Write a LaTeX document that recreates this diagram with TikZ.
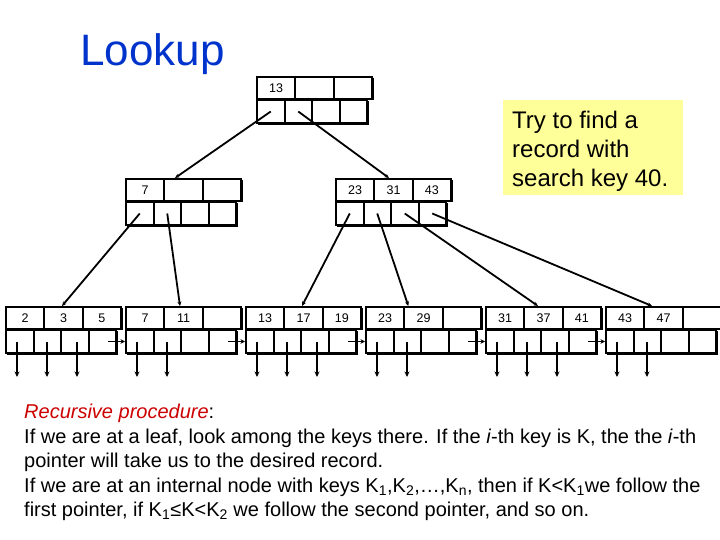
\documentclass[tikz,border=0pt]{standalone}
\usepackage{fontspec}
\setmainfont{Liberation Sans}
\usetikzlibrary{arrows.meta}
\definecolor{titleblue}{RGB}{0,51,204}
\definecolor{procred}{RGB}{204,0,0}
\definecolor{noteyellow}{RGB}{255,255,153}
\tikzset{
  keycell/.style={draw, line width=2pt, minimum width=38.33pt, minimum height=22pt, inner sep=0pt, font=\fontsize{12.5}{14}\selectfont},
  ptrcell/.style={draw, line width=2pt, minimum width=27.5pt, minimum height=23pt, inner sep=0pt},
  rowframe/.style={line width=2.6pt},
  shadowline/.style={line width=2.4pt},
  treeedge/.style={line width=1.8pt, -{Stealth[length=4.5pt,width=4pt]}},
  downptr/.style={line width=1.8pt, -{Stealth[length=5.5pt,width=5pt]}},
  linkptr/.style={line width=1.8pt, -{Stealth[length=4.5pt,width=4.5pt]}}
}
% \BTnode{name}{left x}{top y}{key1}{key2}{key3}
\newcommand{\BTnode}[6]{%
  \node[keycell] (#1-k1) at ({#2+19.17},{#3+11}) {#4};
  \node[keycell] (#1-k2) at ({#2+57.5},{#3+11}) {#5};
  \node[keycell] (#1-k3) at ({#2+95.83},{#3+11}) {#6};
  \draw[rowframe] (#2,#3) rectangle ({#2+115},{#3+22});
  \draw[shadowline] ({#2+116},{#3+1}) -- ({#2+116},{#3+23});
  \node[ptrcell] (#1-p1) at ({#2+13.75},{#3+34.5}) {};
  \node[ptrcell] (#1-p2) at ({#2+41.25},{#3+34.5}) {};
  \node[ptrcell] (#1-p3) at ({#2+68.75},{#3+34.5}) {};
  \node[ptrcell] (#1-p4) at ({#2+96.25},{#3+34.5}) {};
  \draw[rowframe] (#2,{#3+23}) rectangle ({#2+110},{#3+46});
  \draw[shadowline] ({#2+111},{#3+24}) -- ({#2+111},{#3+47}) -- ({#2+1},{#3+47});
}
\begin{document}
\begin{tikzpicture}[x=1pt,y=-1pt]
\useasboundingbox (0,0) rectangle (720,540);

% title
\node[anchor=base west, inner sep=0pt, text=titleblue, font=\fontsize{44}{50}\selectfont] (title) at (80,66) {Lookup};

% note
\node[fill=noteyellow, anchor=north west, minimum width=180pt, minimum height=95pt, inner sep=0pt] (notebox) at (503,100) {};
\node[anchor=north west, inner sep=0pt, align=left, font=\fontsize{24}{29}\selectfont] (note) at (512,111) {Try to find a\\record with\\search key 40.};

% tree nodes
\BTnode{R}{257}{77}{13}{}{}
\BTnode{IA}{126}{179}{7}{}{}
\BTnode{IB}{336}{179}{23}{31}{43}
\BTnode{LA}{6}{307}{2}{3}{5}
\BTnode{LB}{126}{307}{7}{11}{}
\BTnode{LC}{246}{307}{13}{17}{19}
\BTnode{LD}{366}{307}{23}{29}{}
\BTnode{LE}{486}{307}{31}{37}{41}
\BTnode{LF}{606}{307}{43}{47}{}

% root edges
\draw[treeedge] (R-p1.center) -- ([xshift=-8.5pt]IA-k2.north);
\draw[treeedge] (R-p2.center) -- ([xshift=-4.5pt]IB-k2.north);
% internal edges
\draw[treeedge] (IA-p1.center) -- ([xshift=-1.5pt]LA-k2.north);
\draw[treeedge] (IA-p2.center) -- ([xshift=-3.5pt]LB-k2.north);
\draw[treeedge] (IB-p1.center) -- ([xshift=-1.5pt]LC-k2.north);
\draw[treeedge] (IB-p2.center) -- ([xshift=3pt]LD-k1.north east);
\draw[treeedge] (IB-p3.center) -- ([xshift=-5.5pt]LE-k2.north);
\draw[treeedge] (IB-p4.center) -- ([xshift=-11.5pt]LF-k2.north);

% leaf record pointers
\foreach \L/\n in {LA/3,LB/2,LC/3,LD/2,LE/3,LF/2}{
  \foreach \i [evaluate=\i as \dx using {12+30*(\i-1)}] in {1,...,\n}{
    \coordinate (\L-r\i) at ([xshift=\dx pt]\L-p1.west |- 0,377);
    \draw[downptr] ([xshift=\dx pt]\L-p1.west) -- (\L-r\i);
  }
}
% leaf links
\foreach \a/\b in {LA/LB,LB/LC,LC/LD,LD/LE,LE/LF}{
  \draw[linkptr] ([xshift=6pt]\a-p4.center) -- (\b-p1.west);
}

% text
\node[anchor=north west, inner sep=0pt, align=left, font=\fontsize{20}{24.5}\selectfont] (proc) at (24,404) {%
{\color{procred}\itshape Recursive procedure}:\\
If we are at a leaf, look among the keys there. If the \textit{i}-th key is K, the the \textit{i}-th\\
pointer will take us to the desired record.\\
If we are at an internal node with keys K\textsubscript{1},K\textsubscript{2},…,K\textsubscript{n}, then if K<K\textsubscript{1}we follow the\\
first pointer, if K\textsubscript{1}≤K<K\textsubscript{2} we follow the second pointer, and so on.};
\end{tikzpicture}
\end{document}
